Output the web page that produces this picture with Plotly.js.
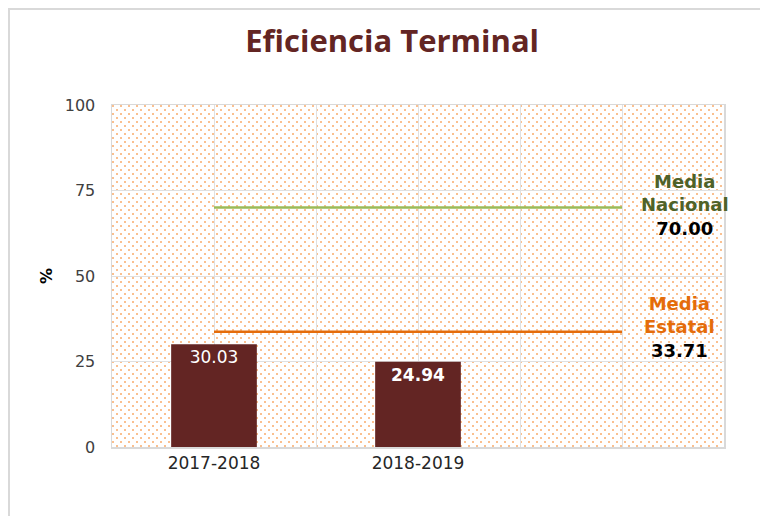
<!DOCTYPE html>
<html>
<head>
<meta charset="utf-8">
<script src="https://cdn.plot.ly/plotly-3.0.1.min.js"></script>
<style>
  html, body { margin: 0; padding: 0; background: #ffffff; }
  #chart { width: 760px; height: 516px; position: relative; }
  #frame { position: absolute; left: 8px; top: 8px; width: 900px; height: 700px;
           border-left: 2px solid #d9d9d9; border-top: 2px solid #d9d9d9; pointer-events: none; }
</style>
</head>
<body>
<div id="chart"></div>
<div id="frame"></div>
<script>
// ---- data ----
const categories = ['2017-2018', '2018-2019', ''];
const barCategories = ['2017-2018', '2018-2019'];
const barValues = [30.03, 24.94];
const mediaNacional = 70.00;
const mediaEstatal = 33.71;
const yTicks = [0, 25, 50, 75, 100];

// ---- derived ----
const catIndex = c => categories.indexOf(c);
const xBars = barCategories.map(catIndex);
const xFirst = 0, xLast = categories.length - 1;

// dotted background pattern
const pat = '<svg xmlns="http://www.w3.org/2000/svg" width="612" height="342" shape-rendering="crispEdges">' +
  '<defs><pattern id="p" width="8" height="8" patternUnits="userSpaceOnUse">' +
  '<rect x="0" y="0" width="2" height="2" fill="#f79646"/>' +
  '<rect x="4" y="4" width="2" height="2" fill="#f79646"/>' +
  '</pattern></defs><rect width="612" height="342" fill="url(#p)" fill-opacity="0.6"/></svg>';
const patURI = 'data:image/svg+xml;charset=utf-8,' + encodeURIComponent(pat);

const traces = [
  {
    type: 'bar',
    x: xBars,
    y: barValues,
    width: 0.42,
    marker: { color: '#632523', line: { width: 0 } },
    text: barValues.map((v, i) => i === 1 ? '<b>' + v.toFixed(2) + '</b>' : v.toFixed(2)),
    textposition: 'inside',
    insidetextanchor: 'end',
    textfont: { family: 'DejaVu Sans, Verdana, sans-serif', size: 17, color: '#ffffff' },
    cliponaxis: false,
    hoverinfo: 'skip',
    showlegend: false
  },
  {
    type: 'scatter', mode: 'lines',
    x: [xFirst, xLast], y: [mediaNacional, mediaNacional],
    line: { color: '#9bbb59', width: 2.5 },
    hoverinfo: 'skip', showlegend: false
  },
  {
    type: 'scatter', mode: 'lines',
    x: [xFirst, xLast], y: [mediaEstatal, mediaEstatal],
    line: { color: '#e46c0a', width: 2.5 },
    hoverinfo: 'skip', showlegend: false
  }
];

const annFont = { family: 'DejaVu Sans, Verdana, sans-serif', size: 18 };

const layout = {
  width: 760, height: 516,
  margin: { l: 112, r: 36, t: 105, b: 69 },
  paper_bgcolor: '#ffffff',
  plot_bgcolor: 'rgba(0,0,0,0)',
  title: {
    text: '<b>Eficiencia Terminal</b>',
    font: { family: 'Open Sans, sans-serif', size: 31, color: '#632523' },
    xref: 'container', x: 0.516, xanchor: 'center',
    yref: 'container', y: 1 - 41 / 516, yanchor: 'middle'
  },
  xaxis: {
    range: [-0.5, 2.5],
    tickmode: 'array',
    tickvals: categories.map((c, i) => i),
    ticktext: categories,
    tickfont: { family: 'DejaVu Sans, Verdana, sans-serif', size: 17, color: '#262626' },
    showgrid: true, gridcolor: '#e0e0e0', gridwidth: 1,
    minor: {
      tickmode: 'array',
      tickvals: [-0.5, 0.5, 1.5, 2.5],
      showgrid: true, gridcolor: '#e0e0e0', gridwidth: 1, ticks: ''
    },
    ticks: '',
    showline: true, linecolor: '#d9d9d9', linewidth: 1.5, mirror: true,
    zeroline: false, fixedrange: true
  },
  yaxis: {
    range: [0, 100],
    tickmode: 'array',
    tickvals: yTicks,
    ticktext: yTicks.map(String),
    tickfont: { family: 'DejaVu Sans, Verdana, sans-serif', size: 16, color: '#404040' },
    ticks: 'outside', ticklen: 12, tickcolor: 'rgba(0,0,0,0)',
    showgrid: true, gridcolor: '#e0e0e0', gridwidth: 1,
    showline: true, linecolor: '#d9d9d9', linewidth: 1.5, mirror: true,
    zeroline: false, fixedrange: true,
    title: { text: '<b>%</b>', font: { family: 'DejaVu Sans, Verdana, sans-serif', size: 16, color: '#000000' }, standoff: 8 }
  },
  images: [{
    source: patURI, xref: 'paper', yref: 'paper', x: 0, y: 1, sizex: 1, sizey: 1,
    xanchor: 'left', yanchor: 'top', sizing: 'stretch', layer: 'below'
  }],
  annotations: [
    {
      x: 2.31, y: 70.7, xref: 'x', yref: 'y', xanchor: 'center', yanchor: 'middle',
      showarrow: false, align: 'center', font: annFont,
      text: '<b><span style="color:#4f6228">Media<br>Nacional</span><br><span style="color:#000000">' + mediaNacional.toFixed(2) + '</span></b>'
    },
    {
      x: 2.28, y: 35.1, xref: 'x', yref: 'y', xanchor: 'center', yanchor: 'middle',
      showarrow: false, align: 'center', font: annFont,
      text: '<b><span style="color:#e46c0a">Media<br>Estatal</span><br><span style="color:#000000">' + mediaEstatal.toFixed(2) + '</span></b>'
    }
  ]
};

Plotly.newPlot('chart', traces, layout, { displayModeBar: false, staticPlot: true });
</script>
</body>
</html>
